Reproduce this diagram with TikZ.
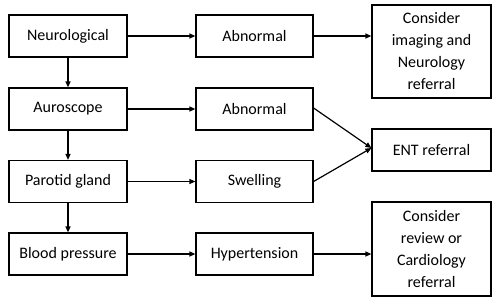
\documentclass[tikz,border=0pt]{standalone}
\usepackage{fontspec}
\setmainfont{Carlito}
\usetikzlibrary{arrows.meta}
\begin{document}
\begin{tikzpicture}[x=1pt,y=-1pt,
  box/.style={draw,line width=1.2pt,inner sep=0pt,font=\fontsize{16}{22}\selectfont},
  conn/.style={line width=1.2pt,-{Triangle[length=6pt,width=5pt]}}]
\useasboundingbox (0,0) rectangle (500,300);
\node[box,minimum width=118pt,minimum height=42pt] (neu) at (68,36) {Neurological};
\node[box,minimum width=118pt,minimum height=42pt] (aur) at (68,109) {Auroscope};
\node[box,minimum width=118pt,minimum height=42pt] (par) at (68,181.5) {Parotid gland};
\node[box,minimum width=118pt,minimum height=42pt] (bp) at (68,254) {Blood pressure};
\node[box,minimum width=117pt,minimum height=42pt] (ab1) at (254.5,36) {Abnormal};
\node[box,minimum width=117pt,minimum height=42pt] (ab2) at (254.5,109) {Abnormal};
\node[box,minimum width=117pt,minimum height=42pt] (sw) at (254.5,181.5) {Swelling};
\node[box,minimum width=117pt,minimum height=42pt] (hy) at (254.5,254) {Hypertension};
\node[box,minimum width=119pt,minimum height=93pt,align=center] (img) at (431.5,51.5) {Consider\\imaging and\\Neurology\\referral};
\node[box,minimum width=119pt,minimum height=42pt] (ent) at (431.5,150) {ENT referral};
\node[box,minimum width=119pt,minimum height=94pt,align=center] (car) at (431.5,249) {Consider\\review or\\Cardiology\\referral};
\draw[conn] (neu) -- (aur);
\draw[conn] (aur) -- (par);
\draw[conn] (par) -- (bp);
\draw[conn] (neu) -- (ab1);
\draw[conn] (aur) -- (ab2);
\draw[conn] (par) -- (sw);
\draw[conn] (bp) -- (hy);
\draw[conn] (ab1.east) -- (ab1.east -| img.west);
\draw[conn] ([yshift=1pt]ab2.east) -- ([yshift=2pt]ent.west);
\draw[conn] (sw.east) -- ([yshift=2pt]ent.west);
\draw[conn] (hy.east) -- (hy.east -| car.west);
\end{tikzpicture}
\end{document}
